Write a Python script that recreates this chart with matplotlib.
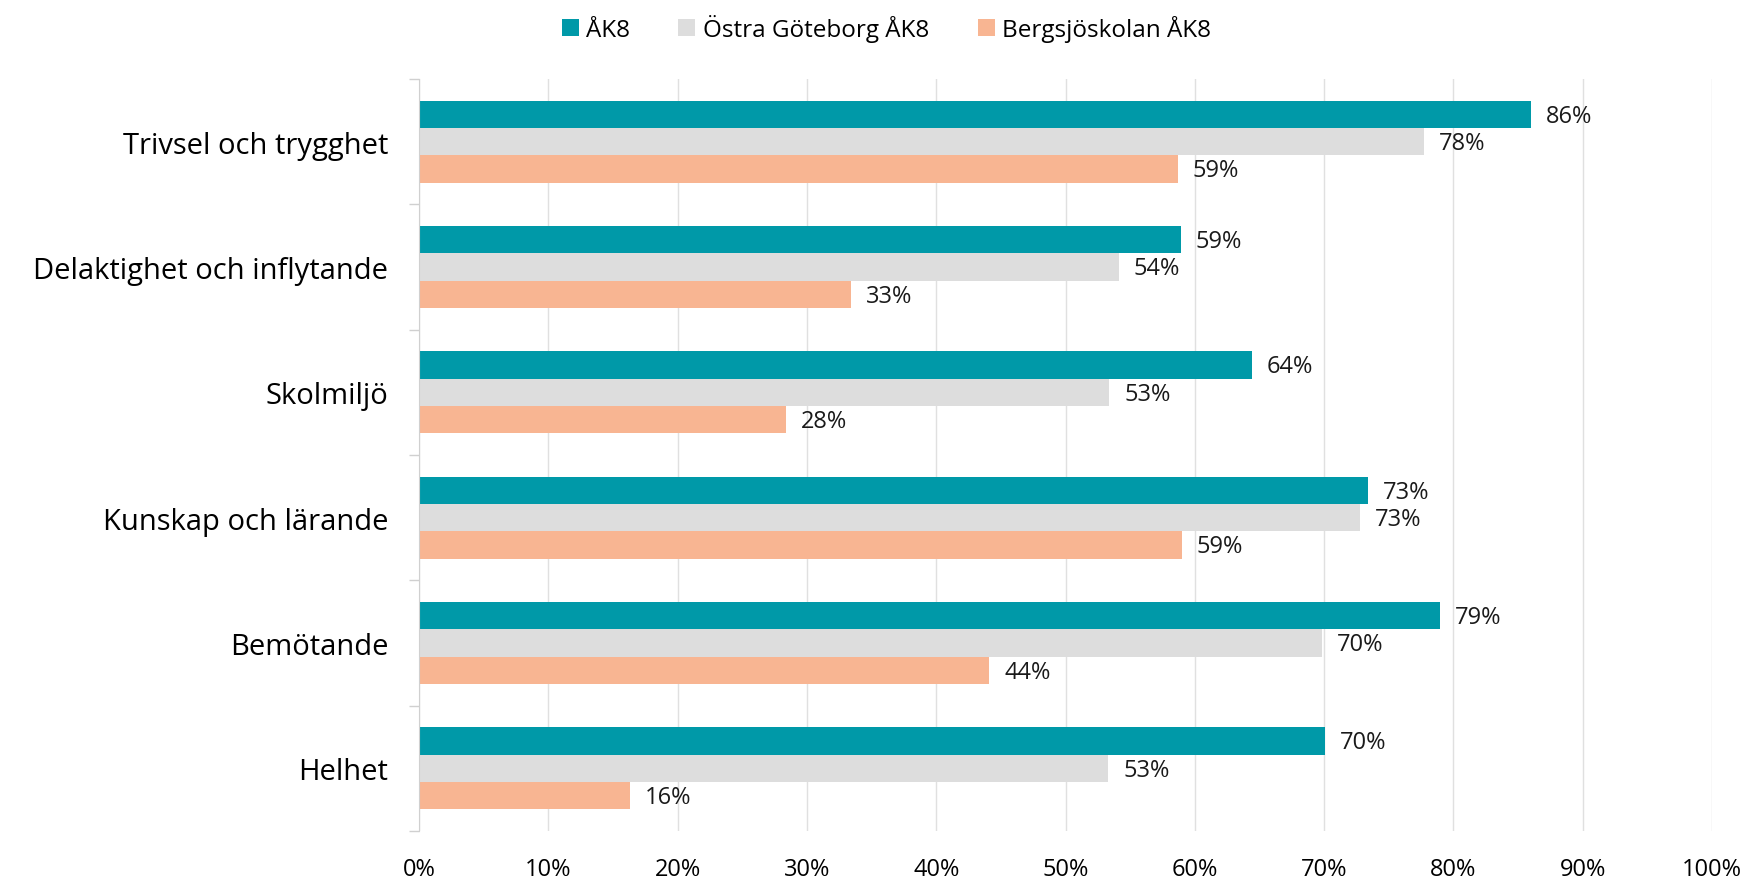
import numpy as np
import matplotlib
matplotlib.use("Agg")
import matplotlib.pyplot as plt
from matplotlib.ticker import FixedLocator, PercentFormatter

plt.rcParams['font.family'] = ['Open Sans', 'DejaVu Sans']

categories = ["Trivsel och trygghet", "Delaktighet och inflytande", "Skolmiljö",
              "Kunskap och lärande", "Bemötande", "Helhet"]
series_names = ["ÅK8", "Östra Göteborg ÅK8", "Bergsjöskolan ÅK8"]
ak8 = [86.0, 58.9, 64.4, 73.4, 79.0, 70.1]
ostra = [77.7, 54.1, 53.4, 72.8, 69.8, 53.3]
bergsjo = [58.7, 33.4, 28.4, 59.0, 44.1, 16.3]
colors = ["#0099A8", "#DDDDDD", "#F8B592"]

fig = plt.figure(figsize=(17.48, 8.79), dpi=100)
ax = fig.add_axes([419 / 1748, 1 - 832 / 879, (1712 - 419) / 1748, (832 - 80) / 879])

n = len(categories)
y = np.arange(n)
h = 0.218
for k, (vals, col, name) in enumerate(zip([ak8, ostra, bergsjo], colors, series_names)):
    pos = y - h + k * h
    ax.barh(pos, vals, height=h, color=col, label=name, zorder=2)
    for p, v in zip(pos, vals):
        ax.text(v + 1.15, p + 0.01, f"{round(v):d}%", va="center", ha="left", fontsize=17, color="#1a1a1a")

ax.set_ylim(n - 0.5, -0.5)
ax.set_xlim(0, 100)
ax.set_yticks(y)
ax.set_yticklabels(categories, fontsize=21)
ax.yaxis.set_minor_locator(FixedLocator(np.arange(-0.5, n, 1)))
ax.tick_params(axis="y", which="major", length=0, pad=22)
ax.tick_params(axis="y", which="minor", length=7, color="#d0d0d0", width=1)
ax.set_xticks(np.arange(0, 101, 10))
ax.xaxis.set_major_formatter(PercentFormatter(decimals=0))
ax.tick_params(axis="x", length=0, pad=19, labelsize=17)
ax.grid(axis="x", color="#e0e0e0", lw=1, zorder=0)
for s in ["top", "right", "bottom"]:
    ax.spines[s].set_visible(False)
ax.spines["left"].set_color("#d0d0d0")

fig.legend(loc="upper center", bbox_to_anchor=(0.507, 1.008), ncol=3, frameon=False,
           fontsize=17.5, handlelength=0.7, handleheight=0.7, handletextpad=0.3, columnspacing=2.0)

fig.savefig("out.png", dpi=100)
